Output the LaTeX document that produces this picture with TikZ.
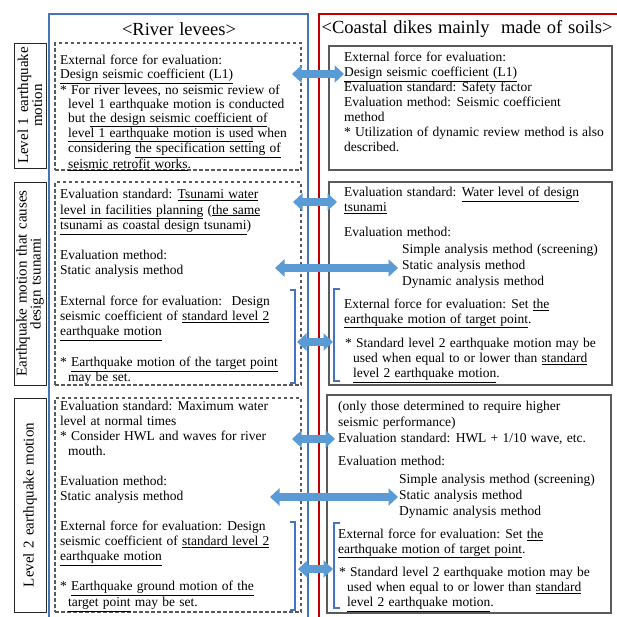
\documentclass[tikz,border=0pt]{standalone}
\usepackage{fontspec}
\setmainfont{Liberation Serif}[WordSpace=1.25]
\usepackage{tikz}
\usetikzlibrary{arrows.meta}
\definecolor{RLblue}{RGB}{70,118,178}
\definecolor{RLarrow}{RGB}{91,155,213}
\definecolor{RLbracket}{RGB}{68,114,196}
\definecolor{CDred}{RGB}{192,0,0}
\definecolor{BXgray}{RGB}{90,90,90}
\newcommand{\ind}{\hspace*{8pt}}
\newcommand{\uln}[1]{\underline{#1}}
\tikzset{
  frame/.style={line width=2.8pt},
  levbox/.style={draw=BXgray,dash pattern=on 3.5pt off 2.5pt,line width=1.1pt,inner sep=0pt},
  dikebox/.style={draw=BXgray,line width=1.2pt,inner sep=0pt},
  lvlbox/.style={draw=black!85,line width=0.9pt,rotate=90,align=center,inner sep=0pt,
                 font=\fontsize{15}{14}\selectfont},
  head/.style={font=\fontsize{18.5}{20}\selectfont,inner sep=0pt},
  txt/.style={anchor=north west,align=left,inner sep=0pt,font=\fontsize{13.5}{15}\selectfont},
  flow/.style={{Triangle[length=9.5pt,width=17pt]}-{Triangle[length=9.5pt,width=17pt]},
               line width=7.5pt,draw=RLarrow},
  brk/.style={draw=RLbracket,line width=1.8pt}
}
\begin{document}
\begin{tikzpicture}[x=1pt,y=-1pt]
  \useasboundingbox (0,0) rectangle (617,616);
  % two columns
  \draw[frame,draw=RLblue] (49,14) rectangle (308,630);
  \draw[frame,draw=CDred] (319,14) rectangle (630,630);
  \node[head] (hlev) at (179,29) {<River levees>};
  \node[head] (hdike) at (467,29) {<Coastal dikes mainly~ made of soils>};

  % row labels
  \node[lvlbox,minimum width=125pt,minimum height=32pt] (q1) at (30,105.5) {Level 1 earthquake\\motion};
  \node[lvlbox,minimum width=203pt,minimum height=32pt] (q2) at (30,283.5) {Earthquake motion that causes\\design tsunami};
  \node[lvlbox,minimum width=214pt,minimum height=32pt] (q3) at (30,505) {Level 2 earthquake motion};

  % boxes
  \node[levbox,minimum width=246pt,minimum height=127pt] (lev1) at (178,106.5) {};
  \node[levbox,minimum width=246pt,minimum height=203pt] (lev2) at (178,283.5) {};
  \node[levbox,minimum width=246pt,minimum height=214pt] (lev3) at (178,505) {};
  \node[dikebox,minimum width=283pt,minimum height=124pt] (dike1) at (470.5,108) {};
  \node[dikebox,minimum width=283pt,minimum height=203pt] (dike2) at (470.5,283.5) {};
  \node[dikebox,minimum width=284pt,minimum height=218pt] (dike3) at (469,504) {};

  % level 1
  \node[txt,font=\fontsize{13.5}{14}\selectfont] (t11) at (60,55) {External force for evaluation:\\
    \uln{Design seismic coefficient (L1)}\\
    * For river levees, no seismic review of\\
    \ind level 1 earthquake motion is conducted\\
    \ind but \uln{the design seismic coefficient of}\\
    \ind\uln{level 1 earthquake motion is used} when\\
    \ind considering \uln{the specification setting of}\\
    \ind\uln{seismic retrofit works}.};
  \node[txt] (t12) at (344,52) {External force for evaluation:\\
    \uln{Design seismic coefficient (L1)}\\
    Evaluation standard: Safety factor\\
    Evaluation method: Seismic coefficient\\
    method\\
    * Utilization of dynamic review method is also\\
    described.};

  % tsunami
  \node[txt,font=\fontsize{13.5}{15.5}\selectfont] (t21) at (60,189) {Evaluation standard: \uln{Tsunami water}\\
    \uln{level in facilities planning} (\uln{the same}\\
    \uln{tsunami as coastal design tsunami})};
  \node[txt] (t22) at (60,250) {Evaluation method:\\Static analysis method};
  \node[txt] (t23) at (60,296) {External force for evaluation:~ Design\\
    seismic coefficient of \uln{standard level 2}\\
    \uln{earthquake motion}};
  \node[txt,font=\fontsize{13.5}{14.5}\selectfont] (t24) at (60,357) {* \uln{Earthquake motion of the target point}\\
    \ind may be set.};
  \node[txt] (t25) at (344,187) {Evaluation standard: \uln{Water level of design}\\\uln{tsunami}};
  \node[txt] (t26) at (344,227) {Evaluation method:};
  \node[txt,font=\fontsize{13.5}{16}\selectfont] (t27) at (402,244) {Simple analysis method (screening)\\
    Static analysis method\\Dynamic analysis method};
  \node[txt,font=\fontsize{13.5}{14.5}\selectfont] (t28) at (344,299) {External force for evaluation: Set \uln{the}\\
    \uln{earthquake motion of target point}.};
  \node[txt] (t29) at (345,338) {* Standard level 2 earthquake motion may be\\
    \ind used when equal to or lower than \uln{standard}\\
    \ind\uln{level 2 earthquake motion}.};

  % level 2
  \node[txt] (t31) at (60,401) {Evaluation standard: Maximum water\\
    level at normal times\\
    * Consider HWL and waves for river\\
    \ind mouth.};
  \node[txt,font=\fontsize{13.5}{14.5}\selectfont] (t32) at (60,476) {Evaluation method:\\Static analysis method};
  \node[txt] (t33) at (60,521) {External force for evaluation: Design\\
    seismic coefficient of \uln{standard level 2}\\
    \uln{earthquake motion}};
  \node[txt,font=\fontsize{13.5}{16}\selectfont] (t34) at (60,581) {* \uln{Earthquake ground motion of the}\\
    \ind\uln{target point} may be set.};
  \node[txt,font=\fontsize{13.5}{16}\selectfont] (t35) at (338,401) {(only those determined to require higher\\
    seismic performance)\\
    Evaluation standard: HWL + 1/10 wave, etc.};
  \node[txt] (t36) at (338,456) {Evaluation method:};
  \node[txt,font=\fontsize{13.5}{16}\selectfont] (t37) at (399,474) {Simple analysis method (screening)\\
    Static analysis method\\Dynamic analysis method};
  \node[txt,font=\fontsize{13.5}{14.5}\selectfont] (t38) at (338,529) {External force for evaluation: Set \uln{the}\\
    \uln{earthquake motion of target point}.};
  \node[txt] (t39) at (339,567) {* Standard level 2 earthquake motion may be\\
    \ind used when equal to or lower than \uln{standard}\\
    \ind\uln{level 2 earthquake motion}.};

  % brackets
  \draw[brk] (290,290) -- (295,290) -- (295,383) -- (290,383);
  \draw[brk] (340,289) -- (334,289) -- (334,381) -- (340,381);
  \draw[brk] (290,522) -- (295,522) -- (295,610) -- (290,610);
  \draw[brk] (340,523) -- (334,523) -- (334,608) -- (340,608);

  % arrow ends
  \coordinate (a1w) at (292,74);  \coordinate (a1e) at (344,74);
  \coordinate (a2w) at (293,202); \coordinate (a2e) at (337,202);
  \coordinate (a3w) at (275,268); \coordinate (a3e) at (398,268);
  \coordinate (a4w) at (297,342); \coordinate (a4e) at (333,342);
  \coordinate (a5w) at (292,439); \coordinate (a5e) at (335,439);
  \coordinate (a6w) at (270,497); \coordinate (a6e) at (398,497);
  \coordinate (a7w) at (298,569); \coordinate (a7e) at (333,569);
  \draw[flow] (a1w) -- (a1e);
  \draw[flow] (a2w) -- (a2e);
  \draw[flow] (a3w) -- (a3e);
  \draw[flow] (a4w) -- (a4e);
  \draw[flow] (a5w) -- (a5e);
  \draw[flow] (a6w) -- (a6e);
  \draw[flow] (a7w) -- (a7e);
\end{tikzpicture}
\end{document}
